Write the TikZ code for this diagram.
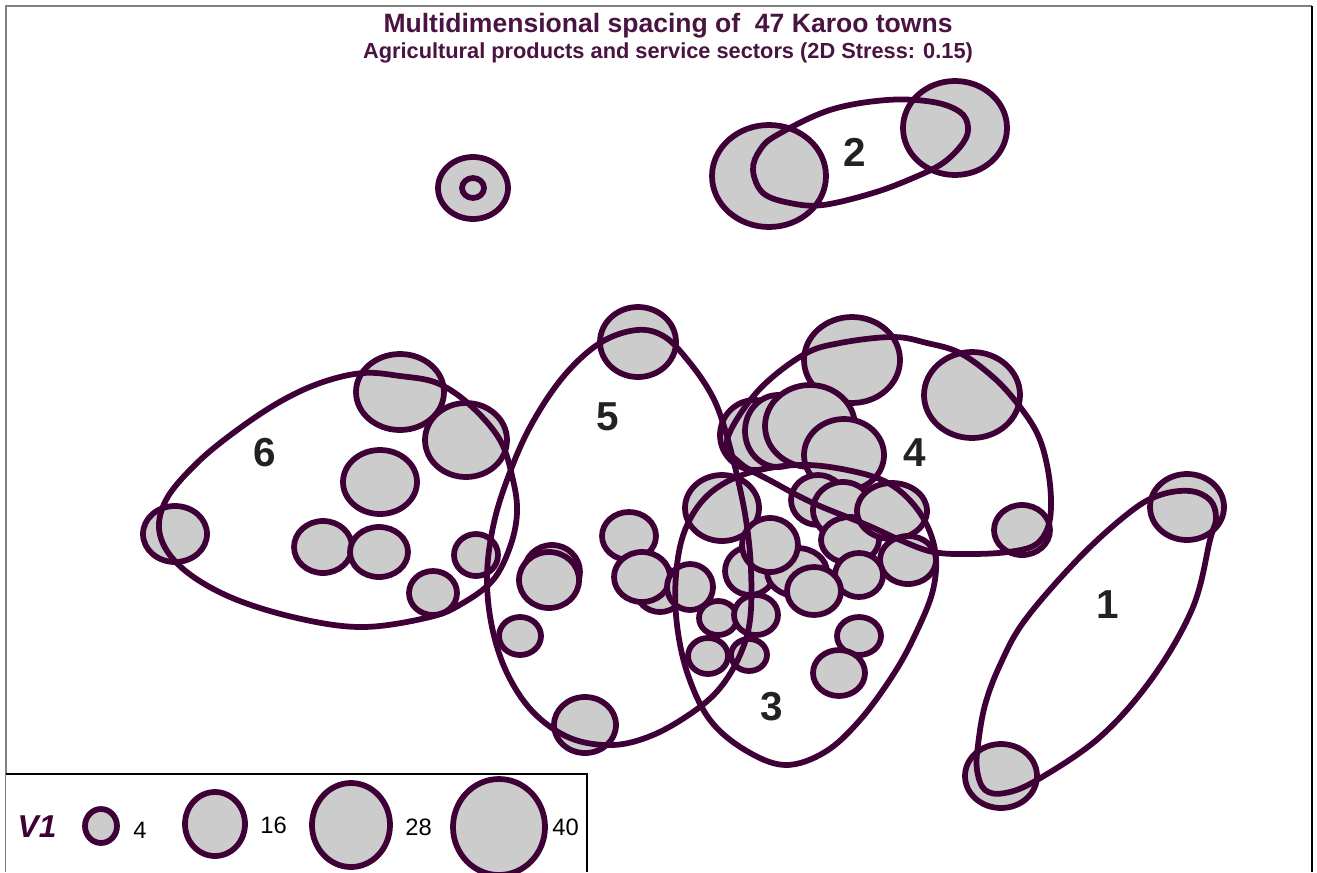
\documentclass[tikz,border=0pt]{standalone}
\usepackage{fontspec}
\setmainfont{Liberation Sans}
\definecolor{plum}{HTML}{3E0036}
\definecolor{bubfill}{HTML}{CCCCCC}
\definecolor{titlecol}{HTML}{4A1442}
\definecolor{labelcol}{HTML}{222222}
\definecolor{framegray}{HTML}{808080}
\newcommand{\bub}[4]{\draw[bubble] (#1,#2) ellipse [x radius=#3, y radius=#4];}
\begin{document}
\begin{tikzpicture}[x=0.02cm,y=-0.02cm,
  bubble/.style={draw=plum,fill=bubfill,line width=0.115cm,line join=round},
  hull/.style={draw=plum,line width=0.115cm,line join=round},
  clabel/.style={text=labelcol,font=\fontsize{23pt}{23pt}\selectfont\bfseries,inner sep=0pt},
  legnum/.style={text=black,font=\fontsize{13.5pt}{14pt}\selectfont,inner sep=0pt,anchor=west},
  framedge/.style={line width=0.04cm}]
\useasboundingbox (0,0) rectangle (1317,872);
\fill[white] (0,0) rectangle (1317,872);

% frame
\draw[framedge,framegray] (6,872) -- (6,6) -- (1312,6);
\draw[framedge,black] (1312,6) -- (1312,872);

% titles
\node[text=titlecol,font=\fontsize{15.1pt}{16pt}\selectfont\bfseries,anchor=base,inner sep=0pt] (title) at (668,32) {Multidimensional spacing of \ 47 Karoo towns};
\node[text=titlecol,font=\fontsize{12.4pt}{13pt}\selectfont\bfseries,anchor=base,inner sep=0pt] (subtitle) at (668,58) {Agricultural products and service sectors (2D Stress: 0.15)};

% isolated towns
\bub{473}{188}{35}{31}
\bub{473}{188}{11}{10}

% group 2
\bub{769}{176}{57}{51}
\bub{955}{128}{52}{47}

% group 6
\bub{400}{392}{44}{38}
\bub{466}{440}{41}{37}
\bub{380}{482}{37}{32}
\bub{175}{534}{32}{28}
\bub{323}{547}{29}{26}
\bub{379}{552}{29}{25}
\bub{476}{555}{22}{21}
\bub{433}{593}{24}{22}

% group 5
\bub{638}{342}{38}{35}
\bub{552}{572}{28}{27}
\bub{549}{580}{30}{28}
\bub{629}{536}{27}{24}
\bub{660}{590}{24}{22}
\bub{642}{577}{28}{25}
\bub{520}{636}{21}{19}
\bub{585}{725}{31}{28}
\bub{690}{587}{23}{23}
\bub{718}{618}{19}{17}
\bub{708}{656}{20}{18}

% group 4
\bub{852}{360}{48}{43}
\bub{972}{395}{48}{43}
\bub{1022}{530}{28}{25}
\bub{755}{435}{35}{35}
\bub{778}{431}{33}{36}
\bub{810}{426}{45}{41}
\bub{844}{455}{40}{36}

% group 3 and the crowded middle
\bub{722}{508}{37}{33}
\bub{818}{500}{27}{25}
\bub{843}{510}{30}{28}
\bub{850}{540}{29}{23}
\bub{892}{511}{35}{28}
\bub{908}{560}{28}{24}
\bub{859}{575}{24}{22}
\bub{750}{571}{25}{24}
\bub{797}{572}{30}{24}
\bub{770}{545}{28}{27}
\bub{814}{591}{27}{24}
\bub{756}{615}{22}{20}
\bub{749}{655}{18}{16}
\bub{859}{636}{22}{19}
\bub{839}{673}{26}{23}

% group 1
\bub{1187}{507}{37}{33}
\bub{1001}{776}{36}{32}

% group outlines
\draw[hull] plot[smooth cycle,tension=0.6] coordinates {
  (1160,495) (1190,491) (1210,500) (1216,518) (1210,540) (1193,607) (1153,677)
  (1100,737) (1037,780) (1005,793) (985,790) (977,770) (978,745) (985,705)
  (1000,665) (1025,620) (1080,557) (1130,512)};
\draw[hull] plot[smooth cycle,tension=0.6] coordinates {
  (777,135) (830,110) (887,100) (933,102) (960,112) (968,127) (963,143)
  (943,163) (913,178) (873,193) (823,205) (790,203) (763,193) (753,170) (760,150)};
\draw[hull] plot[smooth cycle,tension=0.6] coordinates {
  (797,465) (847,470) (890,484) (920,513) (935,550) (933,590) (915,635)
  (893,675) (860,720) (825,752) (785,765) (745,750) (710,720) (688,675)
  (677,625) (676,575) (685,530) (708,495) (745,474)};
\draw[hull] plot[smooth cycle,tension=0.6] coordinates {
  (727,440) (757,392) (803,355) (840,343) (893,337) (927,343) (960,353)
  (993,377) (1017,403) (1037,433) (1047,465) (1051,500) (1048,527) (1035,545)
  (1008,552) (970,554) (933,552) (900,540) (867,525) (813,503) (773,482) (740,463)};
\draw[hull] plot[smooth cycle,tension=0.6] coordinates {
  (637,330) (665,337) (690,363) (710,392) (722,420) (735,467) (746,520)
  (751,570) (750,620) (740,655) (720,688) (693,712) (653,735) (613,745)
  (570,738) (533,712) (507,673) (492,627) (487,577) (493,527) (507,480)
  (530,427) (563,377) (600,343)};
\draw[hull] plot[smooth cycle,tension=0.6] coordinates {
  (363,373) (400,376) (437,383) (470,405) (500,440) (513,480) (517,513)
  (510,547) (493,580) (463,603) (430,617) (363,627) (297,618) (230,597)
  (182,568) (160,535) (166,500) (198,462) (240,428) (283,400) (323,382)};

% group numbers
\node[clabel] (g1) at (1108,605) {1};
\node[clabel] (g2) at (855,152) {2};
\node[clabel] (g3) at (772,707) {3};
\node[clabel] (g4) at (915,453) {4};
\node[clabel] (g5) at (608,417) {5};
\node[clabel] (g6) at (265,453) {6};

% legend
\fill[white] (6,774) rectangle (587,872);
\draw[framedge,black] (6,774) -- (587,774) -- (587,872);
\node[text=plum,font=\fontsize{18pt}{18pt}\selectfont\bfseries\itshape,inner sep=0pt] (v1) at (37,827) {V1};
\bub{101}{826}{16}{17}
\node[legnum] (n4) at (133,830) {4};
\bub{215}{824}{30}{32}
\node[legnum] (n16) at (260,825) {16};
\bub{351}{825}{39}{42}
\node[legnum] (n28) at (405,827) {28};
\bub{499}{827}{46}{48}
\node[legnum] (n40) at (552,827) {40};
\end{tikzpicture}
\end{document}
